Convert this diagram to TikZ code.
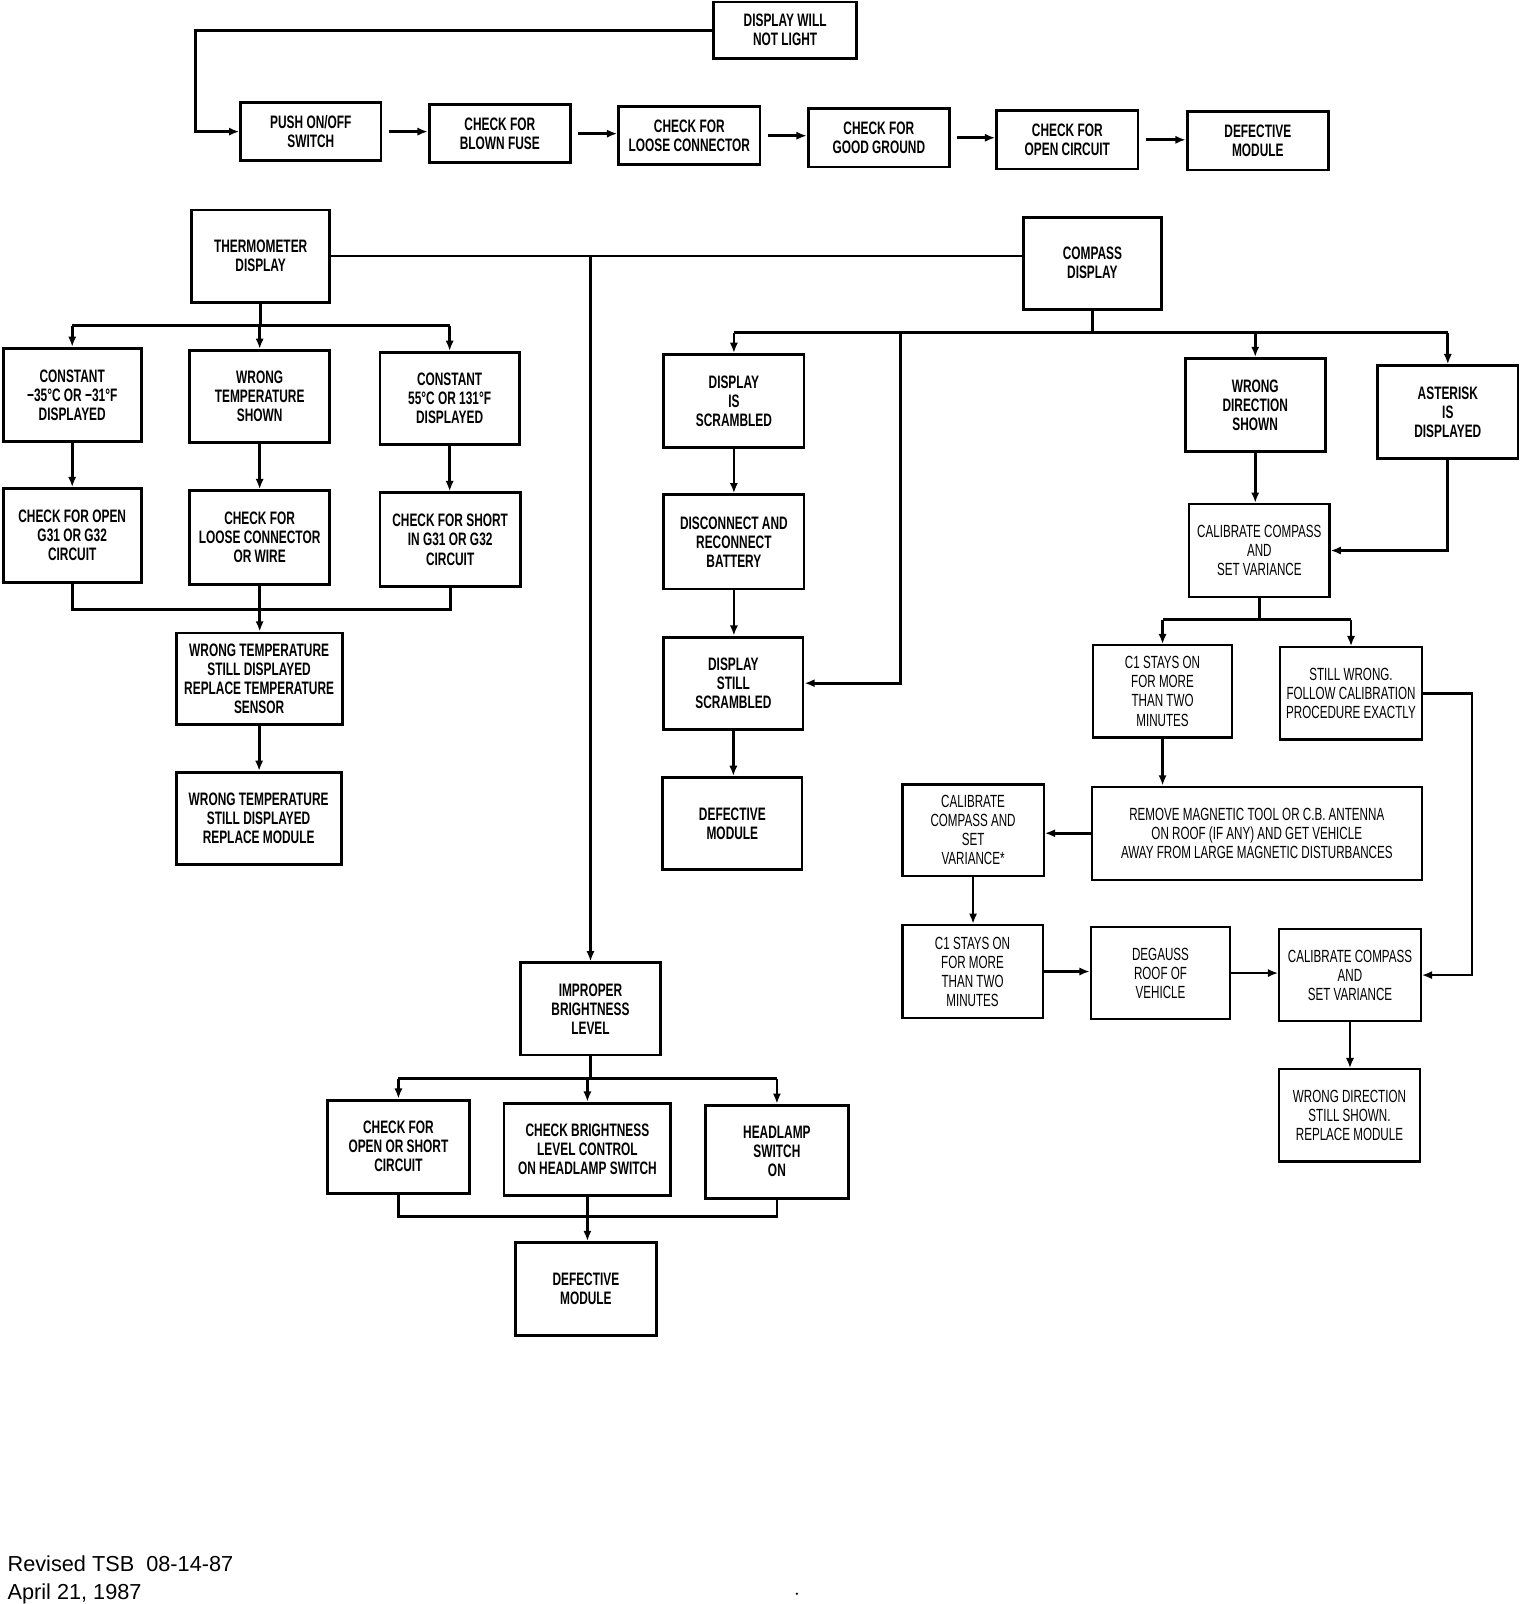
\documentclass[tikz,border=0pt]{standalone}
\usepackage{fontspec}
\setmainfont{Liberation Sans}
\newfontfamily\condfont{Liberation Sans}[FakeStretch=0.66]
\usetikzlibrary{arrows.meta,calc}
\newcommand\condb{\condfont\bfseries\fontsize{8.8}{9.3}\selectfont}
\newcommand\condr{\condfont\fontsize{8.6}{9.3}\selectfont}
\newcommand{\mkbox}[7][bx]{\node[#1, minimum width={(#4-#2)*0.5pt}, minimum height={(#5-#3)*0.5pt}] (#6) at ({(#2+#4)/2},{(#3+#5)/2}) {#7};}
\tikzset{
  bx/.style={draw, line width=1.4pt, inner sep=0pt, align=center, font=\condb},
  lbx/.style={bx, line width=1.1pt, font=\condr},
  ln/.style={line width=1.35pt},
  ar/.style={ln, -{Latex[length=5pt,width=4pt]}},
}
\begin{document}
\begin{tikzpicture}[x=0.5pt,y=-0.5pt]
\useasboundingbox (0,0) rectangle (1500,1566);
% top row
\mkbox{697}{2}{836}{57}{dwnl}{DISPLAY WILL\\NOT LIGHT}
\mkbox{235}{100}{372}{157}{push}{PUSH ON/OFF\\SWITCH}
\mkbox{419}{102}{557}{159}{fuse}{CHECK FOR\\BLOWN FUSE}
\mkbox{604}{104}{742}{161}{loose}{CHECK FOR\\LOOSE CONNECTOR}
\mkbox{789}{106}{927}{163}{ground}{CHECK FOR\\GOOD GROUND}
\mkbox{973}{108}{1111}{165}{open}{CHECK FOR\\OPEN CIRCUIT}
\mkbox{1159}{109}{1297}{166}{defa}{DEFECTIVE\\MODULE}
\draw[ar] (dwnl.west) -| ([xshift=-21.5pt]push.west) -- (push.west);
\draw[ar, shorten <=3pt] (push.east) -- (push.east -| fuse.west);
\draw[ar, shorten <=3pt] (fuse.east) -- (fuse.east -| loose.west);
\draw[ar, shorten <=3pt] (loose.east) -- (loose.east -| ground.west);
\draw[ar, shorten <=3pt] (ground.east) -- (ground.east -| open.west);
\draw[ar, shorten <=3pt] (open.east) -- (open.east -| defa.west);
% thermometer
\mkbox{187}{205}{322}{295}{thermo}{THERMOMETER\\DISPLAY}
\mkbox{999}{212}{1134}{302}{compass}{COMPASS\\DISPLAY}
\mkbox{3}{340}{138}{431}{consta}{CONSTANT\\−35°C OR −31°F\\DISPLAYED}
\mkbox{185}{342}{322}{432}{wrongt}{WRONG\\TEMPERATURE\\SHOWN}
\mkbox{371}{344}{507}{434}{constb}{CONSTANT\\55°C OR 131°F\\DISPLAYED}
\mkbox{3}{477}{138}{569}{chka}{CHECK FOR OPEN\\G31 OR G32\\CIRCUIT}
\mkbox{185}{479}{322}{571}{chkb}{CHECK FOR\\LOOSE CONNECTOR\\OR WIRE}
\mkbox{371}{481}{508}{573}{chkc}{CHECK FOR SHORT\\IN G31 OR G32\\CIRCUIT}
\mkbox{172}{618}{334}{707}{wts}{WRONG TEMPERATURE\\STILL DISPLAYED\\REPLACE TEMPERATURE\\SENSOR}
\mkbox{172}{754}{333}{844}{wtm}{WRONG TEMPERATURE\\STILL DISPLAYED\\REPLACE MODULE}
\coordinate (tbus) at (254.5,318);
\draw[ln] (thermo.south) -- (tbus);
\draw[ln] (consta.north |- tbus) -- (constb.north |- tbus);
\draw[ar] (consta.north |- tbus) -- (consta.north);
\draw[ar] (wrongt.north |- tbus) -- (wrongt.north);
\draw[ar] (constb.north |- tbus) -- (constb.north);
\draw[ar] (consta.south) -- (chka.north);
\draw[ar] (wrongt.south) -- (chkb.north);
\draw[ar] (constb.south) -- (constb.south |- chkc.north);
\coordinate (tbus2) at (254,595);
\draw[ln] (chka.south) -- (chka.south |- tbus2) -- (chkc.south |- tbus2) -- (chkc.south);
\draw[ar] (chkb.south) -- (chkb.south |- wts.north);
\draw[ar] (wts.south) -- (wts.south |- wtm.north);
% thermometer to compass line and brightness
\draw[ln] (thermo.east) -- (thermo.east -| compass.west);
\mkbox{508}{940}{645}{1030}{improper}{IMPROPER\\BRIGHTNESS\\LEVEL}
\draw[ar] (improper.north |- thermo.east) -- (improper.north);
\mkbox{320}{1074}{458}{1165}{cos}{CHECK FOR\\OPEN OR SHORT\\CIRCUIT}
\mkbox{492}{1077}{655}{1167}{cbl}{CHECK BRIGHTNESS\\LEVEL CONTROL\\ON HEADLAMP SWITCH}
\mkbox{689}{1079}{828}{1170}{hs}{HEADLAMP\\SWITCH\\ON}
\mkbox{503}{1213}{641}{1304}{defb}{DEFECTIVE\\MODULE}
\coordinate (bbus) at (576.5,1053);
\draw[ln] (improper.south) -- (bbus);
\draw[ln] (cos.north |- bbus) -- (hs.north |- bbus);
\draw[ar] (cos.north |- bbus) -- (cos.north);
\draw[ar] (cbl.north |- bbus) -- (cbl.north);
\draw[ar] (hs.north |- bbus) -- (hs.north);
\coordinate (bbus2) at (573,1188);
\draw[ln] (cos.south) -- (cos.south |- bbus2) -- (hs.south |- bbus2) -- (hs.south);
\draw[ar] (cbl.south) -- (cbl.south |- defb.north);
% compass left column
\mkbox{648}{346}{785}{437}{scr}{DISPLAY\\IS\\SCRAMBLED}
\mkbox{648}{483}{785}{575}{dis}{DISCONNECT AND\\RECONNECT\\BATTERY}
\mkbox{648}{622}{784}{712}{still}{DISPLAY\\STILL\\SCRAMBLED}
\mkbox{647}{759}{783}{849}{defc}{DEFECTIVE\\MODULE}
\mkbox{1157}{350}{1294}{441}{wd}{WRONG\\DIRECTION\\SHOWN}
\mkbox{1345}{357}{1482}{448}{ast}{ASTERISK\\IS\\DISPLAYED}
\coordinate (cbus) at (1066.5,325);
\coordinate (cj) at (879,325);
\draw[ln] (compass.south) -- (cbus);
\draw[ln] (scr.north |- cbus) -- (ast.north |- cbus);
\draw[ar] (scr.north |- cbus) -- (scr.north);
\draw[ar] (wd.north |- cbus) -- (wd.north);
\draw[ar] (ast.north |- cbus) -- (ast.north);
\draw[ar] (scr.south) -- (dis.north);
\draw[ar] (dis.south) -- (dis.south |- still.north);
\draw[ar] (still.south) -- (still.south |- defc.north);
\draw[ar] (cj) |- (still.east);
% compass right part
\mkbox[lbx]{1161}{492}{1298}{583}{cala}{CALIBRATE COMPASS\\AND\\SET VARIANCE}
\mkbox[lbx]{1067}{630}{1203}{720}{cia}{C1 STAYS ON\\FOR MORE\\THAN TWO\\MINUTES}
\mkbox[lbx]{1250}{632}{1388}{722}{sw}{STILL WRONG.\\FOLLOW CALIBRATION\\PROCEDURE EXACTLY}
\mkbox[lbx]{1066}{768}{1388}{859}{rem}{REMOVE MAGNETIC TOOL OR C.B. ANTENNA\\ON ROOF (IF ANY) AND GET VEHICLE\\AWAY FROM LARGE MAGNETIC DISTURBANCES}
\mkbox[lbx]{881}{766}{1019}{855}{calb}{CALIBRATE\\COMPASS AND\\SET\\VARIANCE*}
\mkbox[lbx]{881}{903}{1018}{994}{cib}{C1 STAYS ON\\FOR MORE\\THAN TWO\\MINUTES}
\mkbox[lbx]{1065}{905}{1201}{995}{deg}{DEGAUSS\\ROOF OF\\VEHICLE}
\mkbox[lbx]{1249}{907}{1387}{997}{calc}{CALIBRATE COMPASS\\AND\\SET VARIANCE}
\mkbox[lbx]{1249}{1044}{1386}{1134}{wds}{WRONG DIRECTION\\STILL SHOWN.\\REPLACE MODULE}
\draw[ar] (wd.south) -- (wd.south |- cala.north);
\draw[ar] (ast.south) |- (cala.east);
\coordinate (kbus) at (1229.5,605);
\draw[ln] (cala.south) -- (kbus);
\draw[ln] (cia.north |- kbus) -- (sw.north |- kbus);
\draw[ar] (cia.north |- kbus) -- (cia.north);
\draw[ar] (sw.north |- kbus) -- (sw.north);
\draw[ar] (cia.south) -- (cia.south |- rem.north);
\draw[ar] (rem.west) -- (rem.west -| calb.east);
\draw[ar] (calb.south) -- (calb.south |- cib.north);
\draw[ar] (cib.east) -- (cib.east -| deg.west);
\draw[ar] (deg.east) -- (deg.east -| calc.west);
\draw[ar] (sw.east) -- ++(48,0) |- (calc.east);
\draw[ar] (calc.south) -- (calc.south |- wds.north);
% footer
\node[anchor=base west, inner sep=0pt, font=\fontsize{10.6}{12}\selectfont] (rev) at (7,1534) {Revised TSB\ \ 08-14-87};
\node[anchor=base west, inner sep=0pt, font=\fontsize{10.6}{12}\selectfont] (date) at (7,1562) {April 21, 1987};
\fill (778,1556) circle (0.6pt);
\end{tikzpicture}
\end{document}
